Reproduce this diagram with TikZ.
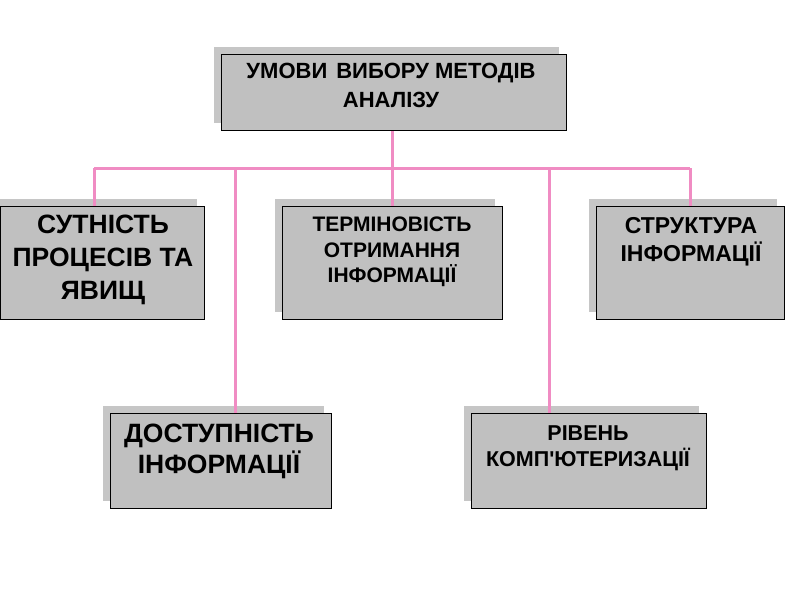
\documentclass[tikz,border=0pt]{standalone}
\usepackage{fontspec}
\setmainfont{Liberation Sans}[Ligatures=TeXOff]
\definecolor{boxgray}{RGB}{192,192,192}
\definecolor{shadegray}{RGB}{198,198,198}
\definecolor{linkpink}{RGB}{240,140,195}
\begin{document}
\begin{tikzpicture}[x=1pt,y=-1pt,
  box/.style={draw=black, line width=1.2pt, fill=boxgray, anchor=north west, inner sep=0pt},
  shade/.style={fill=shadegray, anchor=north west, inner sep=0pt},
  link/.style={draw=linkpink, line width=3pt},
  label/.style={align=center, anchor=north, inner sep=0pt}]
\useasboundingbox[fill=white] (0,0) rectangle (800,600);

% junction points on the pink bus
\coordinate (j1) at (94,168);
\coordinate (j2) at (235,168);
\coordinate (j3) at (392,168);
\coordinate (j4) at (549,168);
\coordinate (j5) at (690,168);

% shadows
\node[shade, minimum width=345pt, minimum height=76pt] (s0) at (214,47) {};
\node[shade, minimum width=204pt, minimum height=113pt] (s1) at (-7,199) {};
\node[shade, minimum width=220pt, minimum height=113pt] (s2) at (275,199) {};
\node[shade, minimum width=188pt, minimum height=113pt] (s3) at (589,199) {};
\node[shade, minimum width=221pt, minimum height=95pt] (s4) at (103,406) {};
\node[shade, minimum width=235pt, minimum height=95pt] (s5) at (464,406) {};

% connectors
\coordinate (topbot) at (392,130);
\draw[link] (topbot) -- (j3);
\draw[link] (j1) -- (j5);
\draw[link] (j1) -- (94,206);
\draw[link] (j2) -- (235,413);
\draw[link] (j3) -- (392,206);
\draw[link] (j4) -- (549,413);
\draw[link] (j5) -- (690,206);

% boxes
\node[box, minimum width=345pt, minimum height=76pt] (b0) at (221,54) {};
\node[box, minimum width=204pt, minimum height=113pt] (b1) at (0,206) {};
\node[box, minimum width=220pt, minimum height=113pt] (b2) at (282,206) {};
\node[box, minimum width=188pt, minimum height=113pt] (b3) at (596,206) {};
\node[box, minimum width=221pt, minimum height=95pt] (b4) at (110,413) {};
\node[box, minimum width=235pt, minimum height=95pt] (b5) at (471,413) {};

% texts
\node[label, font=\bfseries\fontsize{22}{29}\selectfont] (t0) at (391,63) {УМОВИ\hspace{9pt}ВИБОРУ МЕТОДІВ\\АНАЛІЗУ};
\node[label, font=\bfseries\fontsize{26.5}{33}\selectfont] (t1) at (103,215) {СУТНІСТЬ\\ПРОЦЕСІВ ТА\\ЯВИЩ};
\node[label, font=\bfseries\fontsize{21}{25.5}\selectfont] (t2) at (392,217) {ТЕРМІНОВІСТЬ\\ОТРИМАННЯ\\ІНФОРМАЦІЇ};
\node[label, font=\bfseries\fontsize{23}{28}\selectfont] (t3) at (691,217) {СТРУКТУРА\\ІНФОРМАЦІЇ};
\node[label, font=\bfseries\fontsize{26.5}{31}\selectfont] (t4) at (219,424) {ДОСТУПНІСТЬ\\ІНФОРМАЦІЇ};
\node[label, font=\bfseries\fontsize{21.5}{26}\selectfont] (t5) at (588,425) {РІВЕНЬ\\КОМП'ЮТЕРИЗАЦІЇ};
\end{tikzpicture}
\end{document}
